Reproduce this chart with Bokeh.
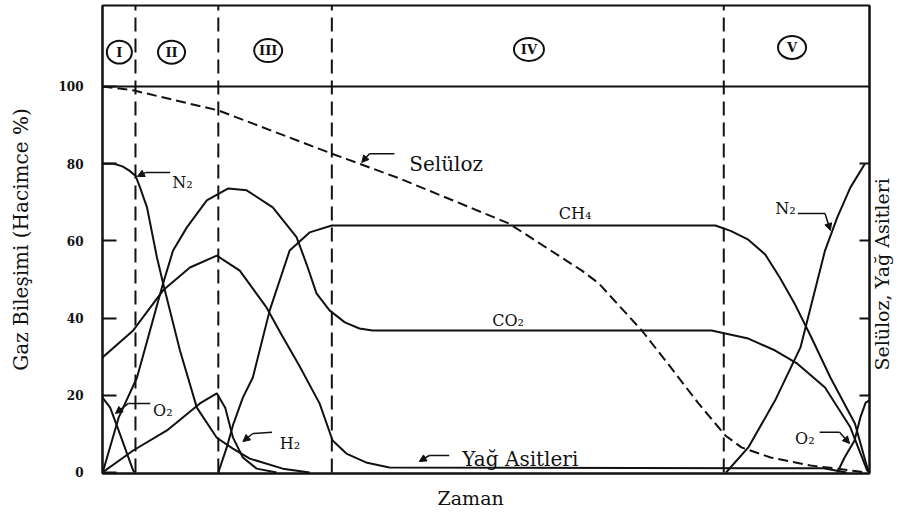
from bokeh.plotting import figure
from bokeh.models import Range1d, Span, LinearAxis, FixedTicker, Arrow, NormalHead
from bokeh.core.properties import value
from bokeh.embed import file_html
from bokeh.resources import INLINE
import math

# ---------------- data (time axis 0-100, composition %) ----------------
phase_bounds = [4.3, 15.1, 29.9, 81.0]
phase_names = ["I", "II", "III", "IV", "V"]
phase_label_t = [2.2, 9.0, 21.6, 55.6, 89.9]
phase_label_v = [108.9, 108.9, 109.3, 109.6, 110.1]
phase_circle_w = [25, 27, 28, 30, 28]

n2_early_t = [0, 1.5, 2.6, 3.5, 4.3, 4.9, 5.8, 7.1, 7.9, 10.1, 12.3, 14.9, 17.0, 19.2, 23.5, 27.0]
n2_early_v = [80, 80, 79.3, 78.2, 76.9, 73.8, 68.7, 55.7, 49.0, 31.6, 16.8, 9.0, 6.2, 3.6, 1.0, 0]

o2_early_t = [0, 1.0, 2.1, 3.2, 4.0, 4.2]
o2_early_v = [19.4, 16.8, 10.9, 4.9, 0.5, 0]

co2_t = [0.1, 2.1, 4.5, 7.9, 9.2, 11.0, 13.6, 16.4, 18.8, 22.2, 25.3, 26.6, 27.9, 29.6,
         31.6, 33.5, 35.2, 79.4, 81.2, 84.2, 87.7, 90.6, 94.2, 97.5, 99.7, 100]
co2_v = [0.5, 14.2, 24.6, 49.0, 57.5, 63.5, 70.5, 73.6, 73.1, 68.7, 61.0, 54.0, 46.4, 42.0,
         38.9, 37.3, 36.8, 36.8, 36.0, 34.7, 31.6, 28.2, 22.0, 11.7, 0.5, 0]

ch4_t = [15.1, 16.2, 17.0, 18.3, 19.6, 21.8, 24.4, 27.0, 29.9, 79.9, 81.9, 84.2, 86.4,
         88.3, 90.3, 92.3, 94.9, 98.1, 99.7, 100]
ch4_v = [0, 6.5, 12.2, 19.4, 24.6, 42.0, 57.5, 62.2, 64.0, 64.0, 62.6, 60.3, 56.5,
         50.5, 43.5, 35.5, 24.6, 12.7, 1.3, 0]

h2_t = [0, 4.0, 8.4, 12.7, 14.9, 16.0, 17.0, 18.3, 20.1, 22.7]
h2_v = [0, 5.7, 10.9, 17.9, 20.5, 16.8, 9.1, 3.9, 1.0, 0]

yag_t = [0, 4.0, 7.9, 11.4, 14.9, 17.9, 21.4, 23.4, 25.7, 28.3, 30.0, 31.8, 34.5, 37.4, 94.0, 97.0]
yag_v = [29.8, 36.8, 47.2, 53.1, 56.2, 52.3, 42.7, 35.5, 27.5, 17.9, 8.3, 4.9, 2.5, 1.3, 1.1, 0]

selu_t = [0, 4.0, 15.1, 29.9, 38.7, 53.0, 62.5, 64.7, 70.3, 73.4, 77.7, 81.2, 83.3,
          87.1, 92.3, 95.8, 98.4, 99.5]
selu_v = [100, 99.0, 93.8, 82.6, 76.2, 64.5, 52.3, 49.0, 36.8, 29.0, 17.9, 9.6, 6.5,
          3.9, 1.8, 1.0, 0.3, 0]

n2_late_t = [81.3, 84.2, 87.7, 91.0, 94.2, 95.8, 97.5, 99.4]
n2_late_v = [0, 6.5, 18.7, 32.4, 57.5, 66.1, 73.8, 80]

o2_late_t = [95.8, 96.75, 98.05, 98.8, 99.5, 100]
o2_late_v = [0, 3.9, 8.3, 14.2, 18.1, 18.7]

y_ticks = [0, 20, 40, 60, 80, 100]
right_ticks = [20, 40, 60, 80]
x_title = "Zaman"
y_title = "Gaz Bileşimi (Hacimce %)"
y2_title = "Selüloz, Yağ Asitleri"

INK = "#111111"
SERIF = "DejaVu Serif"

# ---------------- figure ----------------
p = figure(width=907, height=516, x_range=Range1d(0, 100), y_range=Range1d(-0.26, 120.98),
           output_backend="svg", toolbar_location=None,
           min_border_left=102, min_border_right=35, min_border_top=5, min_border_bottom=43)
p.grid.visible = False
p.outline_line_color = INK
p.outline_line_width = 2
p.background_fill_color = "white"
p.border_fill_color = "white"

# left axis
ya = p.yaxis[0]
ya.ticker = FixedTicker(ticks=y_ticks)
ya.major_tick_in = 14
ya.major_tick_out = 0
ya.minor_tick_line_color = None
ya.axis_line_color = INK
ya.axis_line_width = 2
ya.major_tick_line_color = INK
ya.major_tick_line_width = 2
ya.major_label_text_font = SERIF
ya.major_label_text_font_size = "12px"
ya.major_label_text_font_style = "bold"
ya.major_label_text_color = INK
ya.major_label_standoff = 19
ya.axis_label = y_title
ya.axis_label_text_font = SERIF
ya.axis_label_text_font_size = "20px"
ya.axis_label_text_font_style = "normal"
ya.axis_label_text_color = INK
ya.axis_label_standoff = 22

# bottom axis: the title is drawn as a single tick label so it sits where the original has it
xa = p.xaxis[0]
xa.ticker = FixedTicker(ticks=[48])
xa.major_label_overrides = {48: x_title}
xa.axis_line_color = INK
xa.axis_line_width = 2
xa.major_tick_line_color = None
xa.major_tick_out = 0
xa.major_tick_in = 0
xa.minor_tick_line_color = None
xa.major_label_text_font = SERIF
xa.major_label_text_font_size = "19px"
xa.major_label_text_color = INK
xa.major_label_standoff = 13

# right axis with inward ticks
ra = LinearAxis(ticker=FixedTicker(ticks=right_ticks), major_tick_in=10, major_tick_out=0,
                minor_tick_line_color=None, axis_line_color=INK, axis_line_width=2,
                major_tick_line_color=INK, major_tick_line_width=2,
                major_label_overrides={t: "" for t in right_ticks}, major_label_standoff=0)
p.add_layout(ra, "right")
# right title, reading bottom-to-top (label starts at its tick)
ra2 = LinearAxis(ticker=FixedTicker(ticks=[26.4]), major_label_overrides={26.4: y2_title},
                 major_label_orientation=math.pi / 2, axis_line_color=None,
                 major_tick_line_color=None, minor_tick_line_color=None,
                 major_tick_in=0, major_tick_out=0, major_label_standoff=13,
                 major_label_text_font=SERIF, major_label_text_font_size="19px",
                 major_label_text_color=INK)
p.add_layout(ra2, "right")

# header line and phase boundaries
p.add_layout(Span(location=100, dimension="width", line_color=INK, line_width=2))
for b in phase_bounds:
    p.line([b, b], [0, 121], line_color=INK, line_width=2, line_dash="14 7")

# phase labels in circles
p.ellipse(x=phase_label_t, y=phase_label_v, width=phase_circle_w, height=23,
          width_units="screen", height_units="screen",
          fill_color="white", line_color=INK, line_width=2)
p.text(x=phase_label_t, y=phase_label_v, text=phase_names, text_align="center",
       text_baseline="middle", text_font=value(SERIF), text_font_size=value("13px"),
       text_font_style="bold", text_color=INK)

# curves
for tt, vv in [(n2_early_t, n2_early_v), (o2_early_t, o2_early_v), (co2_t, co2_v),
               (ch4_t, ch4_v), (h2_t, h2_v), (yag_t, yag_v),
               (n2_late_t, n2_late_v), (o2_late_t, o2_late_v)]:
    p.line(tt, vv, line_color=INK, line_width=2)
p.line(selu_t, selu_v, line_color=INK, line_width=2, line_dash="10 5")

# curve labels
def lab(x, y, s, size):
    p.text(x=[x], y=[y], text=[s], text_align="left", text_baseline="alphabetic",
           text_font=value(SERIF), text_font_size=value(size), text_color=INK)

lab(9.1, 75.1, "N₂", "16px")
lab(40.0, 79.8, "Selüloz", "20px")
lab(59.5, 67.1, "CH₄", "16px")
lab(50.8, 39.4, "CO₂", "16px")
lab(46.9, 3.6, "Yağ Asitleri", "20px")
lab(23.1, 7.5, "H₂", "16px")
lab(6.6, 16.1, "O₂", "16px")
lab(87.7, 68.4, "N₂", "16px")
lab(90.3, 8.8, "O₂", "16px")

# leaders with arrow heads
leaders = [
    ([8.83, 5.58], [77.7, 77.7], (4.55, 76.7)),
    ([38.05, 34.8], [82.6, 82.6], (33.8, 80.3)),
    ([45.2, 42.6], [4.4, 4.4], (41.3, 2.85)),
    ([22.1, 19.6], [10.4, 10.1], (18.3, 8.0)),
    ([6.23, 3.38], [17.9, 17.9], (1.69, 15.3)),
    ([90.65, 94.2], [67.1, 67.1], (94.9, 62.7)),
    ([93.5, 96.1], [10.4, 10.4], (97.4, 7.5)),
]
for lx, ly, tip in leaders:
    p.line(lx, ly, line_color=INK, line_width=1.5)
    p.add_layout(Arrow(end=NormalHead(size=7, fill_color=INK, line_color=INK),
                       x_start=lx[-1], y_start=ly[-1], x_end=tip[0], y_end=tip[1],
                       line_color=INK, line_width=1.5))

open("out.html", "w").write(file_html(p, INLINE))
